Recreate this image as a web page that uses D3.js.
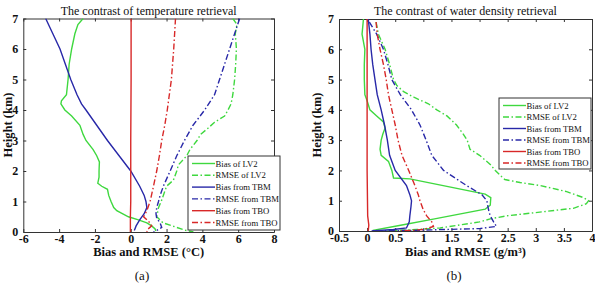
<!DOCTYPE html>
<html>
<head>
<meta charset="utf-8">
<script src="https://cdn.jsdelivr.net/npm/d3@7"></script>
<style>
  body { margin: 0; background: #fff; }
  svg { display: block; }
  text { font-family: "Liberation Serif", "DejaVu Serif", serif; fill: #111; }
</style>
</head>
<body>
<div id="chart"></div>
<script>
// ---- data: [height km, value] ----
const legendNames = ["Bias of LV2", "RMSE of LV2", "Bias from TBM", "RMSE from TBM", "Bias from TBO", "RMSE from TBO"];
const tempTicks = [-6, -4, -2, 0, 2, 4, 6, 8];
const waterTicks = [-0.5, 0, 0.5, 1, 1.5, 2, 2.5, 3, 3.5, 4];
const heightTicks = [0, 1, 2, 3, 4, 5, 6, 7];

const tempBiasLV2 = [[7,-2.66],[6.8,-2.95],[6.5,-3.12],[6,-3.3],[5.5,-3.44],[5,-3.5],[4.5,-3.59],[4.3,-3.87],[4.2,-3.9],[4,-3.68],[3.8,-3.3],[3.5,-2.84],[3.2,-2.66],[3,-2.5],[2.7,-2.1],[2.5,-1.9],[2.3,-1.75],[2,-1.77],[1.8,-1.77],[1.6,-1.84],[1.5,-1.62],[1.4,-1.3],[1.2,-1.23],[1,-1.1],[0.8,-0.95],[0.7,-0.78],[0.5,-0.13],[0.4,0.43],[0.3,0.9],[0.2,1.17],[0.1,1.36],[0.03,1.4]];
const tempRmseLV2 = [[7,5.7],[6.8,5.93],[6.5,5.84],[6,5.9],[5.5,5.86],[5,5.8],[4.5,5.7],[4.2,5.6],[4,5.43],[3.8,5.24],[3.6,4.68],[3.4,4.31],[3.2,3.9],[3,3.7],[2.7,3.3],[2.5,3.13],[2.2,2.66],[2,2.57],[1.7,2.38],[1.5,2.0],[1.2,1.82],[1,1.7],[0.8,1.55],[0.5,1.45],[0.3,1.8],[0.15,2.57],[0.05,3.1],[0,3.5]];
const tempBiasTBM = [[7,-4.75],[6.5,-4.35],[6,-3.95],[5.5,-3.65],[5,-3.35],[4.5,-3.0],[4.2,-2.75],[4,-2.5],[3.5,-1.9],[3,-1.3],[2.5,-0.65],[2,0.0],[1.5,0.5],[1.2,0.75],[1,0.85],[0.8,0.9],[0.6,0.75],[0.4,0.5],[0.2,0.3],[0.05,0.2]];
const tempRmseTBM = [[7,6.08],[6.5,5.8],[6,5.52],[5.5,5.24],[5,4.96],[4.5,4.68],[4,4.13],[3.5,3.48],[3,3.0],[2.5,2.57],[2,2.2],[1.5,1.82],[1.2,1.64],[1,1.55],[0.8,1.45],[0.6,1.41],[0.45,1.45],[0.3,1.64],[0.15,1.73],[0.05,1.45],[0,1.27]];
const tempBiasTBO = [[7,0.02],[5,0.02],[3,0.0],[1,0.0],[0.5,-0.02],[0,-0.02]];
const tempRmseTBO = [[7,2.5],[6,2.4],[5,2.27],[4,2.04],[3.5,1.9],[3,1.73],[2.5,1.6],[2,1.45],[1.5,1.27],[1,1.08],[0.7,0.9],[0.5,0.72],[0.35,1.0],[0.2,1.17],[0.1,0.97],[0,0.9]];

const waterBiasLV2 = [[7,-0.065],[6.5,-0.09],[6,-0.04],[5.5,-0.05],[5,-0.05],[4.5,-0.04],[4.3,0],[4,0.05],[3.8,0.17],[3.6,0.29],[3.4,0.32],[3.2,0.28],[3,0.25],[2.7,0.23],[2.5,0.25],[2.3,0.38],[2,0.44],[1.75,0.47],[1.72,0.76],[1.22,2.1],[1.1,2.2],[0.85,2.19],[0.75,2.12],[0.72,2.1],[0.4,1.2],[0.2,0.62],[0.02,0.1]];
const waterRmseLV2 = [[6.9,0.16],[6.5,0.2],[6,0.32],[5.5,0.4],[5,0.47],[4.8,0.53],[4.6,0.65],[4.4,0.85],[4.2,1.09],[4,1.24],[3.8,1.42],[3.5,1.59],[3.2,1.71],[3,1.78],[2.7,1.83],[2.5,2.0],[2.2,2.19],[2,2.28],[1.8,2.39],[1.7,2.45],[1.6,2.72],[1.5,3.08],[1.3,3.55],[1.1,3.85],[1,3.94],[0.9,3.9],[0.75,3.67],[0.7,3.43],[0.6,2.96],[0.5,2.48],[0.4,2.19],[0.3,2.0],[0.2,1.65],[0.1,1.3],[0.05,0.88],[0,0.29]];
const waterBiasTBM = [[7,0.02],[6.5,0.05],[6,0.07],[5.5,0.1],[5,0.14],[4.5,0.18],[4,0.25],[3.5,0.31],[3,0.36],[2.5,0.4],[2,0.5],[1.5,0.7],[1.2,0.76],[1,0.79],[0.8,0.78],[0.5,0.76],[0.3,0.75],[0.1,0.7],[0.05,0.47],[0,0.08]];
const waterRmseTBM = [[6.9,0.04],[6.5,0.17],[6,0.29],[5.5,0.37],[5,0.44],[4.5,0.59],[4,0.79],[3.5,0.94],[3,1.05],[2.5,1.15],[2,1.36],[1.5,1.77],[1.2,2.04],[1,2.13],[0.7,2.16],[0.5,2.19],[0.3,2.25],[0.15,2.3],[0.08,2.0],[0.02,0.8],[0,0.1]];
const waterBiasTBO = [[7,0],[2,0],[0.5,0.01],[0.2,0.03],[0,0.02]];
const waterRmseTBO = [[6.9,0.16],[6.5,0.18],[6,0.23],[5.5,0.29],[5,0.34],[4.5,0.38],[4,0.44],[3.5,0.5],[3,0.55],[2.5,0.62],[2,0.74],[1.5,0.85],[1.2,0.91],[1,0.94],[0.7,1.0],[0.5,1.06],[0.3,1.15],[0.15,1.18],[0.05,1.0],[0,0.6]];

const green = "#3fd83f", blue = "#2828a8", red = "#d82828";
const dashDot = "6,2.5,1.5,2.5";
const styles = [
  {color: green, dash: null}, {color: green, dash: dashDot},
  {color: blue, dash: null},  {color: blue, dash: dashDot},
  {color: red, dash: null},   {color: red, dash: dashDot}
];
const serif = '"Liberation Serif", "DejaVu Serif", serif';

const svg = d3.select("#chart").append("svg").attr("width", 595).attr("height", 288);

function drawPanel(cfg) {
  const x = d3.scaleLinear().domain(cfg.xDomain).range([cfg.left, cfg.right]);
  const y = d3.scaleLinear().domain([0, 7]).range([cfg.bottom, cfg.top]);
  const g = svg.append("g");

  // frame + inward ticks
  g.append("g").attr("transform", `translate(0,${cfg.bottom})`)
    .call(d3.axisBottom(x).tickValues(cfg.xTicks).tickSizeInner(-3).tickSizeOuter(0).tickPadding(2)
      .tickFormat(d => String(d)));
  g.append("g").attr("transform", `translate(0,${cfg.top})`)
    .call(d3.axisTop(x).tickValues(cfg.xTicks).tickSizeInner(-3).tickSizeOuter(0).tickFormat(""));
  g.append("g").attr("transform", `translate(${cfg.left},0)`)
    .call(d3.axisLeft(y).tickValues(heightTicks).tickSizeInner(-3).tickSizeOuter(0).tickPadding(5)
      .tickFormat(d => String(d)));
  g.append("g").attr("transform", `translate(${cfg.right},0)`)
    .call(d3.axisRight(y).tickValues(heightTicks).tickSizeInner(-3).tickSizeOuter(0).tickFormat(""));
  g.selectAll("g").attr("font-family", serif);
  g.selectAll(".domain, .tick line").attr("stroke", "#333").attr("stroke-width", 1);
  g.selectAll(".tick text").style("font-family", serif)
    .style("font-size", "12px").style("font-weight", "bold").attr("fill", "#111");

  // curves
  const clipId = "clip" + cfg.id;
  svg.append("clipPath").attr("id", clipId).append("rect")
    .attr("x", cfg.left).attr("y", cfg.top).attr("width", cfg.right - cfg.left).attr("height", cfg.bottom - cfg.top);
  const line = d3.line().x(d => x(d[1])).y(d => y(d[0]));
  const lines = g.append("g").attr("clip-path", `url(#${clipId})`);
  cfg.series.forEach((s, i) => {
    lines.append("path").datum(s).attr("d", line)
      .attr("fill", "none").attr("stroke", styles[i].color).attr("stroke-width", 1.4)
      .attr("stroke-dasharray", styles[i].dash);
  });

  // titles and labels
  svg.append("text").attr("x", (cfg.left + cfg.right) / 2).attr("y", cfg.top - 4)
    .attr("text-anchor", "middle").style("font-size", "12px").text(cfg.title);
  svg.append("text").attr("x", (cfg.left + cfg.right) / 2).attr("y", 256)
    .attr("text-anchor", "middle").style("font-size", "12.5px").style("font-weight", "bold").text(cfg.xLabel);
  svg.append("text").attr("transform", `translate(${cfg.yLabelX},125) rotate(-90)`)
    .attr("text-anchor", "middle").style("font-size", "12.5px").style("font-weight", "bold").text("Height (km)");
  svg.append("text").attr("x", cfg.panelX).attr("y", 280)
    .attr("text-anchor", "middle").style("font-size", "13px").text(cfg.panel);

  // legend
  const lg = svg.append("g").attr("transform", `translate(${cfg.legend.x},${cfg.legend.y})`);
  lg.append("rect").attr("width", cfg.legend.w).attr("height", cfg.legend.h)
    .attr("fill", "#fff").attr("stroke", "#333").attr("stroke-width", 1);
  legendNames.forEach((name, i) => {
    const ly = 7.5 + i * cfg.legend.step;
    lg.append("line").attr("x1", 4).attr("x2", 27).attr("y1", ly).attr("y2", ly)
      .attr("stroke", styles[i].color).attr("stroke-width", 1.4).attr("stroke-dasharray", styles[i].dash);
    lg.append("text").attr("x", 27.5).attr("y", ly + 3).style("font-size", "8.7px").text(name);
  });
}

drawPanel({
  id: "a", left: 23.3, right: 274, top: 18.5, bottom: 232, xDomain: [-6, 8], xTicks: tempTicks,
  series: [tempBiasLV2, tempRmseLV2, tempBiasTBM, tempRmseTBM, tempBiasTBO, tempRmseTBO],
  title: "The contrast of temperature retrieval", xLabel: "Bias and RMSE (°C)",
  yLabelX: 11.5, panel: "(a)", panelX: 142,
  legend: {x: 188, y: 156, w: 92, h: 74, step: 11.8}
});
drawPanel({
  id: "b", left: 339, right: 592, top: 19, bottom: 231, xDomain: [-0.5, 4], xTicks: waterTicks,
  series: [waterBiasLV2, waterRmseLV2, waterBiasTBM, waterRmseTBM, waterBiasTBO, waterRmseTBO],
  title: "The contrast of water density retrieval", xLabel: "Bias and RMSE (g/m³)",
  yLabelX: 321, panel: "(b)", panelX: 454,
  legend: {x: 499, y: 98, w: 92, h: 71, step: 11.5}
});
</script>
</body>
</html>
